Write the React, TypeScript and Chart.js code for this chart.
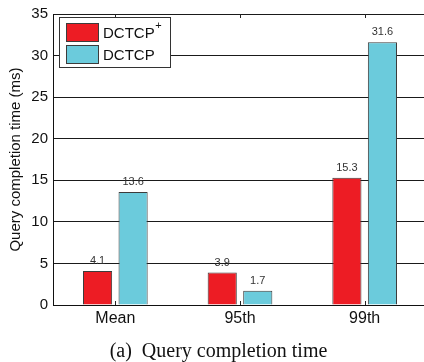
import React, { useEffect, useRef } from "react";
import { Chart, registerables } from "chart.js";

Chart.register(...registerables);

// Categories and series values (ms)
const categories = ["Mean", "95th", "99th"];
const seriesNames = ["DCTCP", "DCTCP"];
const seriesSuperscripts = ["+", ""];
const dctcpPlus = [4.1, 3.9, 15.3];
const dctcp = [13.6, 1.7, 31.6];
const yTicks = [0, 5, 10, 15, 20, 25, 30, 35];
const yTitle = "Query completion time (ms)";
const caption = "(a)  Query completion time";

const RED = "#ED1C24";
const CYAN = "#6BCBDC";
const EDGE = "#3c3c3c";
const SANS = "Arial, 'Liberation Sans', Helvetica, sans-serif";
const SERIF = "'Times New Roman', 'Liberation Serif', serif";

const decorations = {
  id: "decorations",
  afterDatasetsDraw(chart: any) {
    const ctx = chart.ctx;
    const area = chart.chartArea;
    const x = chart.scales.x;

    // value labels above each bar
    ctx.save();
    ctx.font = `11px ${SANS}`;
    ctx.fillStyle = "#333";
    ctx.textAlign = "center";
    ctx.textBaseline = "alphabetic";
    chart.data.datasets.forEach((ds: any, di: number) => {
      chart.getDatasetMeta(di).data.forEach((bar: any, i: number) => {
        ctx.fillText(String(ds.data[i]), bar.x, bar.y - 7);
      });
    });
    ctx.restore();

    // small inward tick marks on the bottom and top edges
    ctx.save();
    ctx.strokeStyle = "#222";
    ctx.lineWidth = 1;
    categories.forEach((_, i) => {
      const px = Math.round(x.getPixelForValue(i)) + 0.5;
      ctx.beginPath();
      ctx.moveTo(px, area.bottom);
      ctx.lineTo(px, area.bottom - 4);
      ctx.moveTo(px, area.top);
      ctx.lineTo(px, area.top + 4);
      ctx.stroke();
    });
    ctx.restore();

    // legend box
    const lx = 59.5, ly = 17.5, lw = 111, lh = 50;
    ctx.save();
    ctx.fillStyle = "#fff";
    ctx.fillRect(lx, ly, lw, lh);
    ctx.strokeStyle = "#333";
    ctx.lineWidth = 1;
    ctx.strokeRect(lx, ly, lw, lh);
    chart.data.datasets.forEach((ds: any, di: number) => {
      const by = 23.5 + di * 22;
      ctx.fillStyle = ds.backgroundColor;
      ctx.fillRect(66.5, by, 32, 18);
      ctx.strokeStyle = EDGE;
      ctx.strokeRect(66.5, by, 32, 18);
      ctx.fillStyle = "#111";
      ctx.font = `15px ${SANS}`;
      ctx.textAlign = "left";
      ctx.textBaseline = "middle";
      const name = seriesNames[di];
      ctx.fillText(name, 103, by + 10);
      const sup = seriesSuperscripts[di];
      if (sup) {
        const w = ctx.measureText(name).width;
        ctx.font = `11px ${SANS}`;
        ctx.fillText(sup, 103 + w + 0.5, by + 2);
      }
    });
    ctx.restore();

    // caption
    ctx.save();
    ctx.font = `20px ${SERIF}`;
    ctx.fillStyle = "#111";
    ctx.textAlign = "center";
    ctx.textBaseline = "alphabetic";
    ctx.fillText(caption, 218.5, 357);
    ctx.restore();
  },
};

export default function App() {
  const ref = useRef<HTMLCanvasElement>(null);

  useEffect(() => {
    document.body.style.margin = "0";
    document.documentElement.style.overflow = "hidden";
    document.body.style.overflow = "hidden";
    const canvas = ref.current!;
    const chart = new Chart(canvas, {
      type: "bar",
      data: {
        labels: categories,
        datasets: [
          {
            label: seriesNames[0] + seriesSuperscripts[0],
            data: dctcpPlus,
            backgroundColor: RED,
            borderColor: EDGE,
            borderWidth: 1,
            barPercentage: 0.82,
            categoryPercentage: 0.57,
          },
          {
            label: seriesNames[1] + seriesSuperscripts[1],
            data: dctcp,
            backgroundColor: CYAN,
            borderColor: EDGE,
            borderWidth: 1,
            barPercentage: 0.82,
            categoryPercentage: 0.57,
          },
        ],
      },
      options: {
        responsive: false,
        animation: false,
        devicePixelRatio: 1,
        layout: { padding: { top: 12, left: 0, right: 5, bottom: 0 } },
        plugins: {
          legend: { display: false },
          tooltip: { enabled: false },
        },
        scales: {
          x: {
            grid: { display: false, drawTicks: false },
            border: { display: true, color: "#111", width: 1 },
            ticks: {
              color: "#111",
              font: { family: SANS, size: 16 },
              padding: 4,
            },
            afterFit(scale: any) {
              scale.height = 57;
            },
          },
          y: {
            min: 0,
            max: 35,
            afterBuildTicks(scale: any) {
              scale.ticks = yTicks.map((v) => ({ value: v }));
            },
            grid: {
              color: "#1a1a1a",
              lineWidth: 1,
              drawTicks: false,
            },
            border: { display: true, color: "#111", width: 1 },
            ticks: {
              color: "#111",
              font: { family: SANS, size: 15 },
              padding: 5,
            },
            title: {
              display: true,
              text: yTitle,
              color: "#111",
              font: { family: SANS, size: 15 },
              padding: { top: 7, bottom: 0 },
            },
            afterFit(scale: any) {
              scale.width = 53;
            },
          },
        },
      },
      plugins: [decorations],
    });
    return () => chart.destroy();
  }, []);

  return <canvas ref={ref} width={432} height={362} style={{ display: "block" }} />;
}
